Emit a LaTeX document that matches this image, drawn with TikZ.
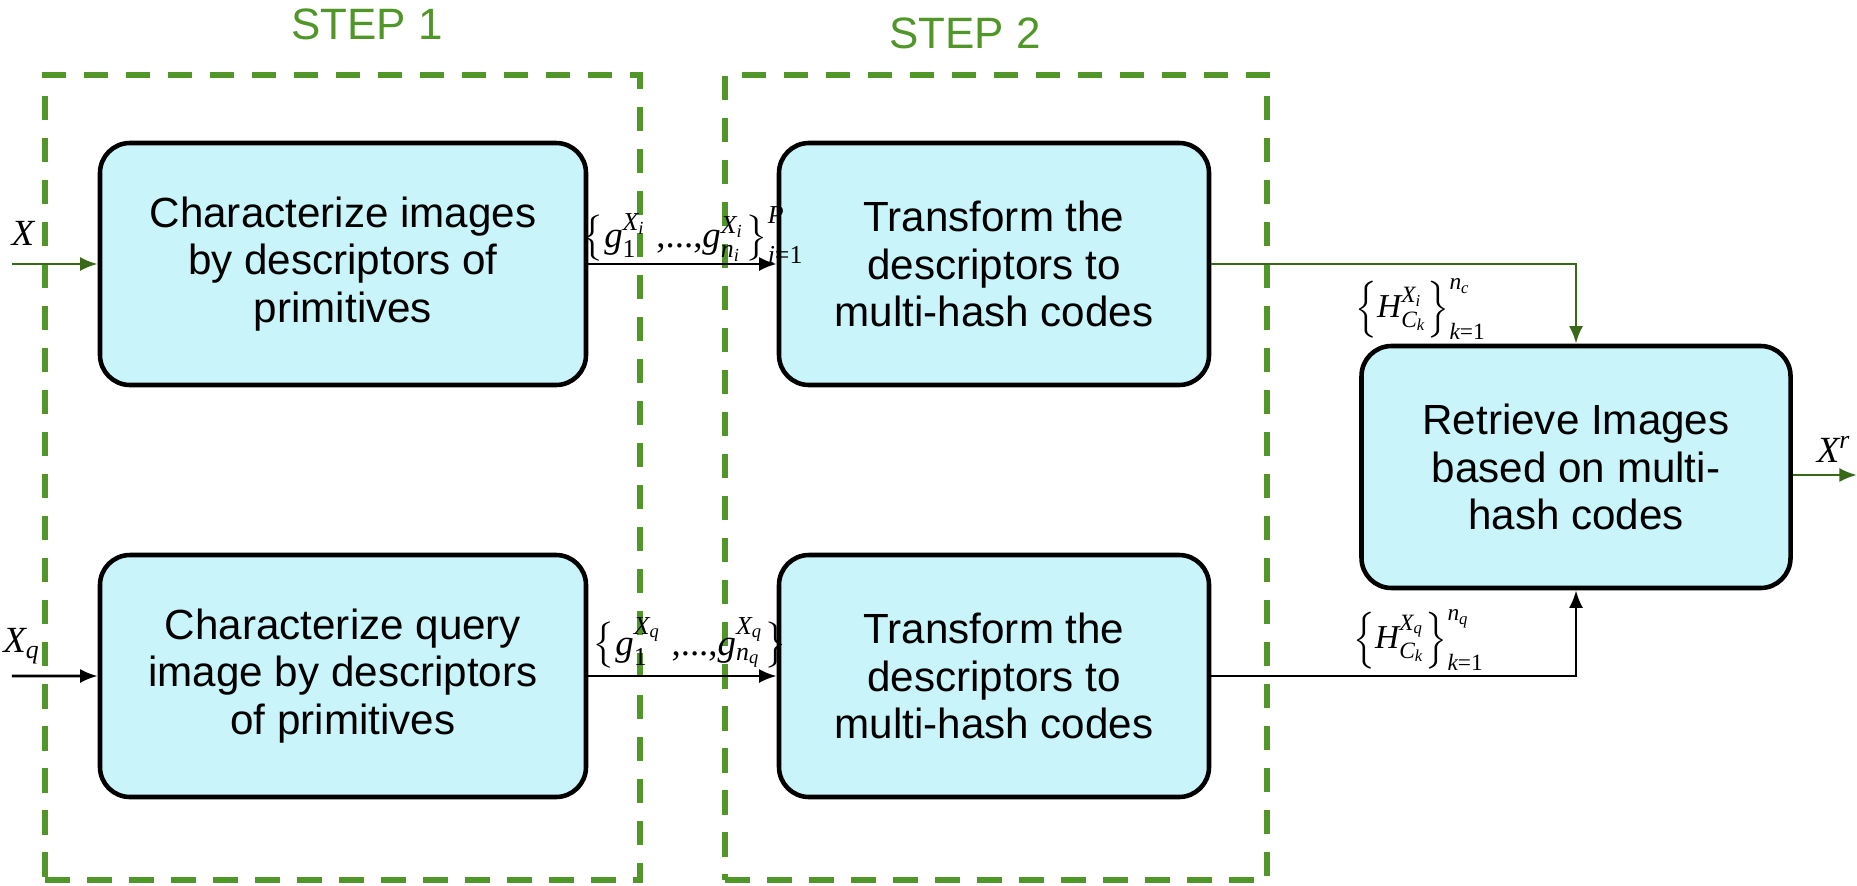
\documentclass[tikz,border=0pt]{standalone}
\usepackage{amsmath}
\usepackage{fontspec}
\setmainfont{Liberation Sans}
\setmathrm{Liberation Serif}
\newfontfamily\labelserif{Liberation Serif}
\usetikzlibrary{positioning, arrows.meta}
\definecolor{stepgreen}{RGB}{80,150,40}
\definecolor{linegreen}{RGB}{55,105,25}
\definecolor{boxcyan}{RGB}{200,244,250}
\tikzset{
	block/.style={
		rectangle,
		draw,
		line width=1.3pt,
		align=center,
		minimum width=4.86cm,
		minimum height=2.42cm,
		rounded corners=0.3cm,
		fill=boxcyan,
		font=\fontsize{12}{13.4}\selectfont,
	},
	hashblock/.style={
		block,
		minimum width=4.30cm,
	},
	stepframe/.style={
		rectangle,
		draw=stepgreen,
		line width=1.6pt,
		dash pattern=on 0.245cm off 0.175cm,
		inner sep=0pt,
	},
	steptitle/.style={
		text=stepgreen,
		font=\fontsize{12.5}{14}\selectfont,
	},
	signal/.style={
		inner sep=0pt,
		font=\fontsize{10.5}{12}\selectfont,
	},
	hashsignal/.style={
		signal,
		font=\fontsize{9.5}{11}\selectfont,
	},
	wire/.style={
		->,
		line width=0.8pt,
	},
}
\newcommand{\sr}[1]{\text{\labelserif #1}}

\begin{document}
\begin{tikzpicture}[node distance=2cm, >={Latex[length=5pt, width=4pt]}]
		\useasboundingbox (0,0) rectangle (18.57,8.85);
		
		\node [stepframe, minimum width=5.95cm, minimum height=8.05cm] (step1) at (3.425,4.075) {};
		\node [stepframe, minimum width=5.42cm, minimum height=8.05cm] (step2) at (9.96,4.075) {};
		\node [steptitle] (step1title) at (3.67,8.61) {STEP 1};
		\node [steptitle] (step2title) at (9.65,8.52) {STEP 2};
		
		\node [block] (imgchar) at (3.43,6.21) {Characterize images\\by descriptors of\\primitives};
		\node [block, below of = imgchar, node distance=4.12cm] (qrychar) {Characterize query\\image by descriptors\\of primitives};
		\node [hashblock, right of = imgchar, node distance=6.51cm] (imghash) {Transform the\\descriptors to\\multi-hash codes};
		\node [hashblock, right of = qrychar, node distance=6.51cm] (qryhash) {Transform the\\descriptors to\\multi-hash codes};
		\node [hashblock, right of = imghash, node distance=5.82cm, yshift=-2.03cm, minimum width=4.29cm] (retrieve) {Retrieve Images\\based on multi-\\hash codes};
		
		\coordinate (xin) at (0.12,6.21);
		\coordinate (xqin) at (0.12,2.09);
		\coordinate (xout) at (18.57,4.10);
		\node [signal] (xlab) at (0.23,6.52) {$\mathit{X}$};
		\node [signal] (xqlab) at (0.22,2.39) {$\mathit{X_q}$};
		\node [signal] (xrlab) at (18.34,4.36) {$\mathit{X^r}$};
		\node [signal] (glab) at (6.93,6.50) {$\mathit{\big\{g_{\sr{1}}^{X_i}\sr{ ,...,}g_{n_i}^{X_i}\big\}_{i\sr{=1}}^{P}}$};
		\node [signal] (gqlab) at (6.90,2.42) {$\mathit{\big\{g_{\sr{1}}^{X_q}\sr{ ,...,}g_{n_q}^{X_q}\big\}}$};
		\node [hashsignal] (hlab) at (14.21,5.76) {$\mathit{\Big\{H_{C_k}^{X_i}\Big\}_{k\sr{=1}}^{n_c}}$};
		\node [hashsignal] (hqlab) at (14.19,2.45) {$\mathit{\Big\{H_{C_k}^{X_q}\Big\}_{k\sr{=1}}^{n_q}}$};
		
		\draw [wire, linegreen] (xin) to (imgchar.west);
		\draw [wire] (xqin) to (qrychar.west);
		\draw [wire] (imgchar) to (imghash);
		\draw [wire] (qrychar) to (qryhash);
		\draw [wire, linegreen] (imghash.east) -| (retrieve.north);
		\draw [wire] (qryhash.east) -| (retrieve.south);
		\draw [wire, linegreen] (retrieve.east |- xout) to (xout);
	\end{tikzpicture}
\end{document}
